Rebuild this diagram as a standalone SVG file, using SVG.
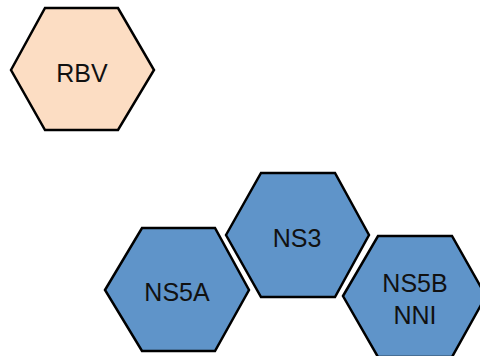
<svg xmlns="http://www.w3.org/2000/svg" width="480" height="356" viewBox="0 0 480 356">
<style>
.hex{stroke:#000;stroke-width:2.5;stroke-linejoin:miter}
.peach{fill:#FCDDC3}
.blue{fill:#5F94C9}
text{font-family:"Liberation Sans",Arial,sans-serif;font-size:25px;fill:#111;text-anchor:middle}
</style>
<rect width="480" height="356" fill="#fff"/>
<g id="RBV">
<polygon class="hex peach" points="11,70 45,8 118,8 154,70 118,130 45,130"/>
<text x="82" y="82">RBV</text>
</g>
<g id="NS5A">
<polygon class="hex blue" points="105,290 142,228 215,228 249,290 215,351 142,351"/>
<text x="177" y="301">NS5A</text>
</g>
<g id="NS3">
<polygon class="hex blue" points="226,235 261,173 335,173 369,235 335,297 261,297"/>
<text x="297" y="247">NS3</text>
</g>
<g id="NS5B">
<polygon class="hex blue" points="343,296 378,236 452,236 486,296 452,357 378,357"/>
<text x="415" y="292">NS5B</text>
<text x="415" y="324">NNI</text>
</g>
<g id="connectors"/>
</svg>
